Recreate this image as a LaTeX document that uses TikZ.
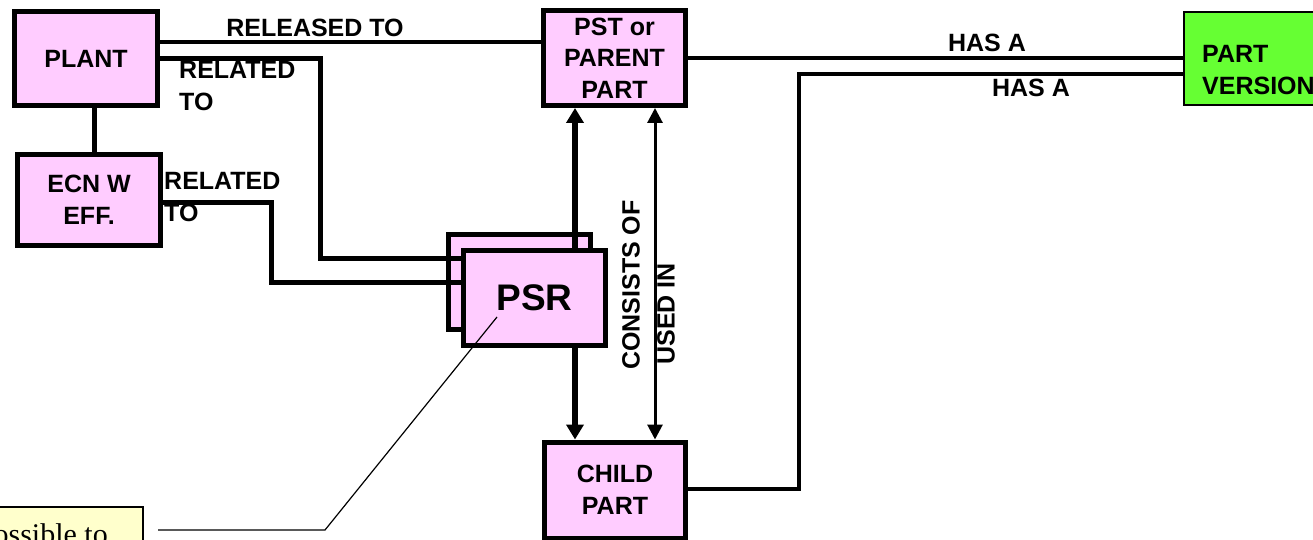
\documentclass[tikz,border=0pt]{standalone}
\usepackage{fontspec}
\setmainfont{Liberation Sans}
\newfontfamily\notefont{Liberation Serif}
\usetikzlibrary{arrows.meta}
\definecolor{boxpink}{HTML}{FFCCFF}
\definecolor{pvgreen}{HTML}{66FF33}
\definecolor{noteyellow}{HTML}{FFFFCC}
\newcommand\lblfont{\bfseries\fontsize{25}{31.5}\selectfont}
\newcommand\psrfont{\bfseries\fontsize{37}{40}\selectfont}
\tikzset{
  entbox/.style={draw, fill=boxpink, line width=5pt, inner sep=0pt, align=center, font=\lblfont},
  lbl/.style={font=\lblfont, inner sep=0pt},
  conn/.style={line width=5pt},
  hasconn/.style={line width=4pt},
  thickarrow/.style={line width=6pt, -{Triangle[length=15pt,width=17pt]}},
  thinarrow/.style={line width=3pt, {Triangle[length=15pt,width=15pt]}-{Triangle[length=15pt,width=15pt]}},
  noteline/.style={line width=1.2pt},
}
\begin{document}
\begin{tikzpicture}[x=1pt,y=-1pt]
\useasboundingbox (0,0) rectangle (1313,540);
\clip (0,0) rectangle (1313,540);

% boxes
\node[entbox, minimum width=143pt, minimum height=94pt] (plant) at (86,58.5) {PLANT};
\node[entbox, minimum width=143pt, minimum height=91pt] (ecn) at (89,200) {ECN W\\EFF.};
\node[entbox, minimum width=142pt, minimum height=95pt] (pst) at (614.5,58) {PST or\\PARENT\\PART};
\node[entbox, minimum width=141pt, minimum height=96pt] (child) at (615,490) {CHILD\\PART};
\node[entbox, minimum width=142pt, minimum height=95pt] (psrback) at (519.5,282) {};
\node[entbox, minimum width=142pt, minimum height=95pt, font=\psrfont] (psr) at (534.5,298) {PSR};
\node[draw, fill=pvgreen, line width=2pt, minimum width=220pt, minimum height=93pt, inner sep=0pt] (pv) at (1294,58.5) {};
\node[lbl, align=left, anchor=west] (pvtext) at (1202,70) {PART\\VERSION};

% note
\node[draw, fill=noteyellow, line width=1.2pt, minimum width=170pt, minimum height=60pt, inner sep=0pt] (note) at (58,537) {};
\node[font=\notefont\fontsize{30}{34}\selectfont, inner sep=0pt, anchor=base east] (notetext) at (108,544) {ossible to};

% connectors
\draw[conn] (plant.south -| 94,0) -- (ecn.north -| 94,0);
\draw[hasconn] (plant.east |- 0,42) -- (pst.west |- 0,42);
\draw[conn] (plant.east |- 0,59) -- (320,59) -- (320,258) -- (psr.west |- 0,258);
\draw[conn] (ecn.east |- 0,202) -- (271,202) -- (271,282) -- (psr.west |- 0,282);
\draw[thickarrow] (psr.north -| 575,0) -- (pst.south -| 575,0);
\draw[thickarrow] (psr.south -| 575,0) -- (child.north -| 575,0);
\draw[thinarrow] (pst.south -| 655,0) -- (child.north -| 655,0);
\draw[hasconn] (pst.east |- 0,58) -- (pv.west |- 0,58);
\draw[hasconn] (child.east |- 0,489) -- (799,489) -- (799,74) -- (pv.west |- 0,74);

\coordinate (notestart) at (158,530);
\coordinate (psrpoint) at (497,317);
\draw[noteline] (notestart) -- (325,530) -- (psrpoint);

% labels
\node[lbl] (lreleased) at (315,28) {RELEASED TO};
\node[lbl, align=left, anchor=west] (lrel1) at (179,86) {RELATED\\TO};
\node[lbl, align=left, anchor=west] (lrel2) at (164,197) {RELATED\\TO};
\node[lbl] (lhas1) at (987,43) {HAS A};
\node[lbl] (lhas2) at (1031,88) {HAS A};
\node[lbl, rotate=90] (lcons) at (631,285) {CONSISTS OF};
\node[lbl, rotate=90] (lused) at (666,314) {USED IN};
\end{tikzpicture}
\end{document}
